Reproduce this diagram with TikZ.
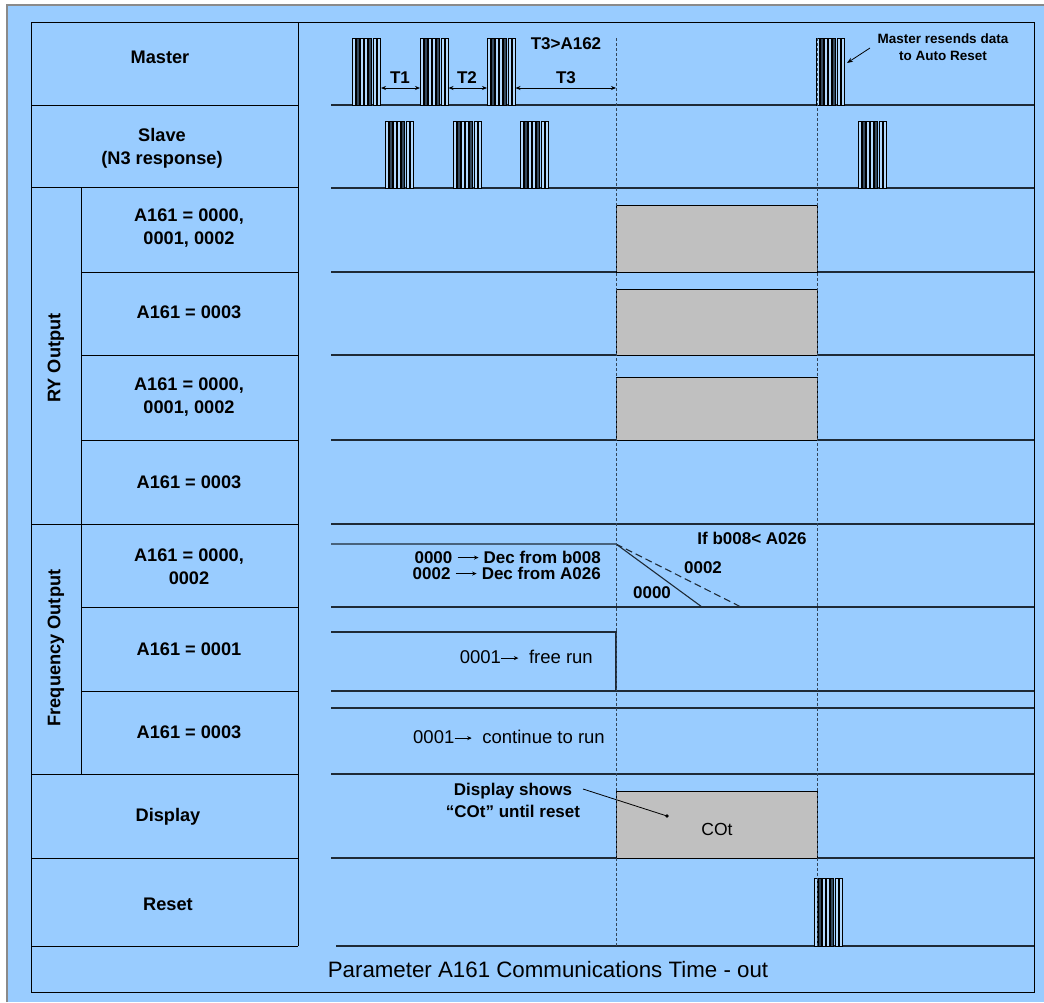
\documentclass[tikz,border=0pt]{standalone}
\usepackage{fontspec}
\setmainfont{Liberation Sans}
\usetikzlibrary{arrows.meta}
\definecolor{bgblue}{HTML}{99CCFF}
\definecolor{boxgray}{HTML}{C0C0C0}
\definecolor{linec}{HTML}{1E2A36}
\definecolor{dashc}{HTML}{34465A}
\definecolor{bardark}{HTML}{34495E}
\definecolor{edgegray}{HTML}{8A8A8A}
\tikzset{
  lbl/.style={font=\fontsize{18.2}{23}\selectfont\bfseries, align=center, inner sep=0pt},
  note/.style={font=\fontsize{17}{17}\selectfont\bfseries, align=right, inner sep=0pt},
  plain/.style={font=\fontsize{17.5}{17}\selectfont, inner sep=0pt},
  runtext/.style={font=\fontsize{18.5}{18}\selectfont, inner sep=0pt},
  gridline/.style={draw=black, line width=1pt},
  sig/.style={draw=linec, line width=1.1pt},
  marker/.style={draw=dashc, dash pattern=on 3pt off 2pt, line width=1pt},
  statebox/.style={draw=black, fill=boxgray, line width=1pt},
  barline/.style={draw=black, line width=0.7pt},
  dimarrow/.style={line width=0.8pt, {Stealth[length=5pt,width=4pt]}-{Stealth[length=5pt,width=4pt]}},
}
\newcommand\txtarrow[1]{\tikz[baseline=-5.5pt]\draw[line width=0.8pt,-{Stealth[length=4.5pt,width=4pt]}] (0pt,0pt) -- (#1,0pt);}
\newcommand\mkburst[3]{%
  \foreach \k in {0,...,6}{%
    \pgfmathsetmacro\bx{#1+\k*4.2}%
    \pgfmathsetmacro\bxr{\bx+3.0}%
    \ifnum\k=1 \def\burstfill{bardark}\else\ifnum\k=4 \def\burstfill{bardark}\else\def\burstfill{white!25!bgblue}\fi\fi
    \draw[barline, fill=\burstfill] (\bx,#2) rectangle (\bxr,#3);
  }}
\begin{document}
\begin{tikzpicture}[x=1pt,y=-1pt]
\useasboundingbox (0,0) rectangle (1044,1002);
% background
\fill[white] (0,0) rectangle (1044,1002);
\fill[bgblue] (7,5) rectangle (1044,1002);
\draw[edgegray, line width=1.2pt] (7,1002) -- (7,5) -- (1044,5);

% frame and label grid
\draw[gridline] (31,22) rectangle (1034,992);
\draw[gridline] (298,22) -- (298,946);
\draw[gridline] (81,187) -- (81,774);
\foreach \yy in {105,187,524,774,858,946} \draw[gridline] (31,\yy) -- (298,\yy);
\foreach \yy in {272,355,440,607,691} \draw[gridline] (81,\yy) -- (298,\yy);

% labels
\node[lbl] (lmaster) at (160,57) {Master};
\node[lbl] (lslave) at (162,148) {Slave\\(N3 response)};
\node[lbl] (lry1) at (189,228) {A161 = 0000,\\0001, 0002};
\node[lbl] (lry2) at (189,312) {A161 = 0003};
\node[lbl] (lry3) at (189,397) {A161 = 0000,\\0001, 0002};
\node[lbl] (lry4) at (189,482) {A161 = 0003};
\node[lbl] (lfo1) at (189,567) {A161 = 0000,\\0002};
\node[lbl] (lfo2) at (189,649) {A161 = 0001};
\node[lbl] (lfo3) at (189,732) {A161 = 0003};
\node[lbl] (ldisp) at (168,817) {Display};
\node[lbl] (lreset) at (168,904) {Reset};
\node[lbl, rotate=90] (lry) at (56,358) {RY Output};
\node[lbl, rotate=90] (lfo) at (56,648) {Frequency Output};
\node[font=\fontsize{22.3}{24}\selectfont, inner sep=0pt] (title) at (548,970) {Parameter A161 Communications Time - out};

% signal baselines
\foreach \yy in {105,188,272,355,440,524,607,691,708,774,858} \draw[sig] (331,\yy) -- (1034,\yy);
\draw[sig] (336,946) -- (1034,946);

% RY grey boxes
\draw[statebox] (616,205) rectangle (817,272);
\draw[statebox] (616,289) rectangle (817,355);
\draw[statebox] (616,377) rectangle (817,440);

% frequency output
\coordinate (fhigh) at (616,544);
\coordinate (f0000) at (702,607);
\coordinate (f0002) at (741,607);
\draw[sig] (331,544) -- (fhigh) -- (f0000);
\draw[sig, dash pattern=on 7pt off 4pt] (fhigh) -- (f0002);
\draw[sig] (331,632) -- (616,632) -- (616,691);
\node[note, anchor=east] (decnote) at (601,565) {0000 \txtarrow{21pt} Dec from b008\\[-1pt]0002 \txtarrow{21pt} Dec from A026};
\node[note] (ifnote) at (752,538) {If b008< A026};
\node[note] (n0002) at (703,568) {0002};
\node[note] (n0000) at (652,593) {0000};
\node[runtext, anchor=east] (freerun) at (593,657) {0001\txtarrow{17pt}\ \ free run};
\node[runtext, anchor=east] (contrun) at (605,737) {0001\txtarrow{17pt}\ \ continue to run};

% display
\draw[statebox] (616,791) rectangle (817,858);
\node[plain] (cot) at (717,829) {COt};
\node[lbl, font=\fontsize{17}{22}\selectfont\bfseries] (dispnote) at (513,800) {Display shows\\“COt” until reset};
\coordinate (dispdot) at (667,816);
\draw[line width=0.8pt] (583,789) -- (dispdot);
\fill (dispdot) circle (1.8pt);

% bursts
\mkburst{352}{38}{105}
\mkburst{420}{38}{105}
\mkburst{487}{38}{105}
\mkburst{816}{38}{105}
\mkburst{385}{121}{188}
\mkburst{453}{121}{188}
\mkburst{520}{121}{188}
\mkburst{858}{121}{188}
\mkburst{814}{878}{946}

% timing markers
\draw[marker] (616,38) -- (616,946);
\draw[marker] (817,38) -- (817,946);

% master dimension arrows
\coordinate (b1r) at (381,88);
\coordinate (b2l) at (420,88);
\coordinate (b2r) at (448.5,88);
\coordinate (b3l) at (487,88);
\coordinate (b3r) at (515.5,88);
\coordinate (tmark) at (616,88);
\draw[dimarrow] (b1r) -- (b2l);
\draw[dimarrow] (b2r) -- (b3l);
\draw[dimarrow] (b3r) -- (tmark);
\node[note] (t1) at (400,78) {T1};
\node[note] (t2) at (467,78) {T2};
\node[note] (t3) at (566,78) {T3};
\node[note] (t3cond) at (566,44) {T3>A162};

% master resend note
\node[font=\fontsize{13.5}{17}\selectfont\bfseries, align=center, inner sep=0pt] (resend) at (943,47) {Master resends data\\to Auto Reset};
\coordinate (rstail) at (870,48);
\coordinate (rshead) at (847,63);
\draw[line width=0.8pt, -{Stealth[length=6pt,width=4.5pt]}] (rstail) -- (rshead);
\end{tikzpicture}
\end{document}
